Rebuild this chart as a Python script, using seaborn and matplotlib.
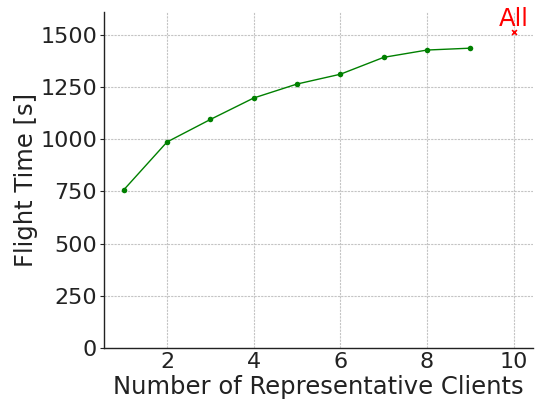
import matplotlib
matplotlib.use("Agg")
import matplotlib.pyplot as plt
import seaborn as sns
import pandas as pd

# Flight time vs. number of representative clients
num_clients = [1, 2, 3, 4, 5, 6, 7, 8, 9]
flight_time = [757, 987, 1095, 1198, 1265, 1312, 1393, 1428, 1437]

# Flight time when all clients are used
all_clients_x = [10]
all_clients_time = [1515]
all_label = "All"

df = pd.DataFrame({"clients": num_clients, "time": flight_time})

sns.set_theme(style="white")
plt.rcParams["font.family"] = ["DejaVu Sans"]

fig, ax = plt.subplots(figsize=(5.37, 4.03), dpi=100)

sns.lineplot(data=df, x="clients", y="time", ax=ax, color="green",
             marker="o", markersize=4, markeredgewidth=0, linewidth=1)
ax.scatter(all_clients_x, all_clients_time, marker="x", color="red", s=12,
           linewidths=1.2, zorder=3)
ax.annotate(all_label, (all_clients_x[0], all_clients_time[0]),
            xytext=(0, 1), textcoords="offset points",
            ha="center", va="bottom", color="red", fontsize=17.5)

ax.set_ylim(0, 1610)
ax.set_xticks([2, 4, 6, 8, 10])
ax.set_yticks([0, 250, 500, 750, 1000, 1250, 1500])
ax.grid(True, color="#c4c4c4", linestyle=(0, (2, 1)), linewidth=0.8)
ax.set_xlabel("Number of Representative Clients", fontsize=17.5, color="#222222",
              labelpad=2)
ax.set_ylabel("Flight Time [s]", fontsize=17.5, color="#222222", labelpad=2)
ax.tick_params(axis="both", labelsize=16, colors="#222222")
ax.tick_params(axis="y", left=True, length=3, width=0.8, pad=2)
ax.tick_params(axis="x", bottom=False, length=0, pad=3)
sns.despine(ax=ax)
for s in ("left", "bottom"):
    ax.spines[s].set_color("#222222")
    ax.spines[s].set_linewidth(1.0)

fig.subplots_adjust(left=0.194, right=0.993, bottom=0.137, top=0.97)
fig.savefig("out.png", dpi=100)
